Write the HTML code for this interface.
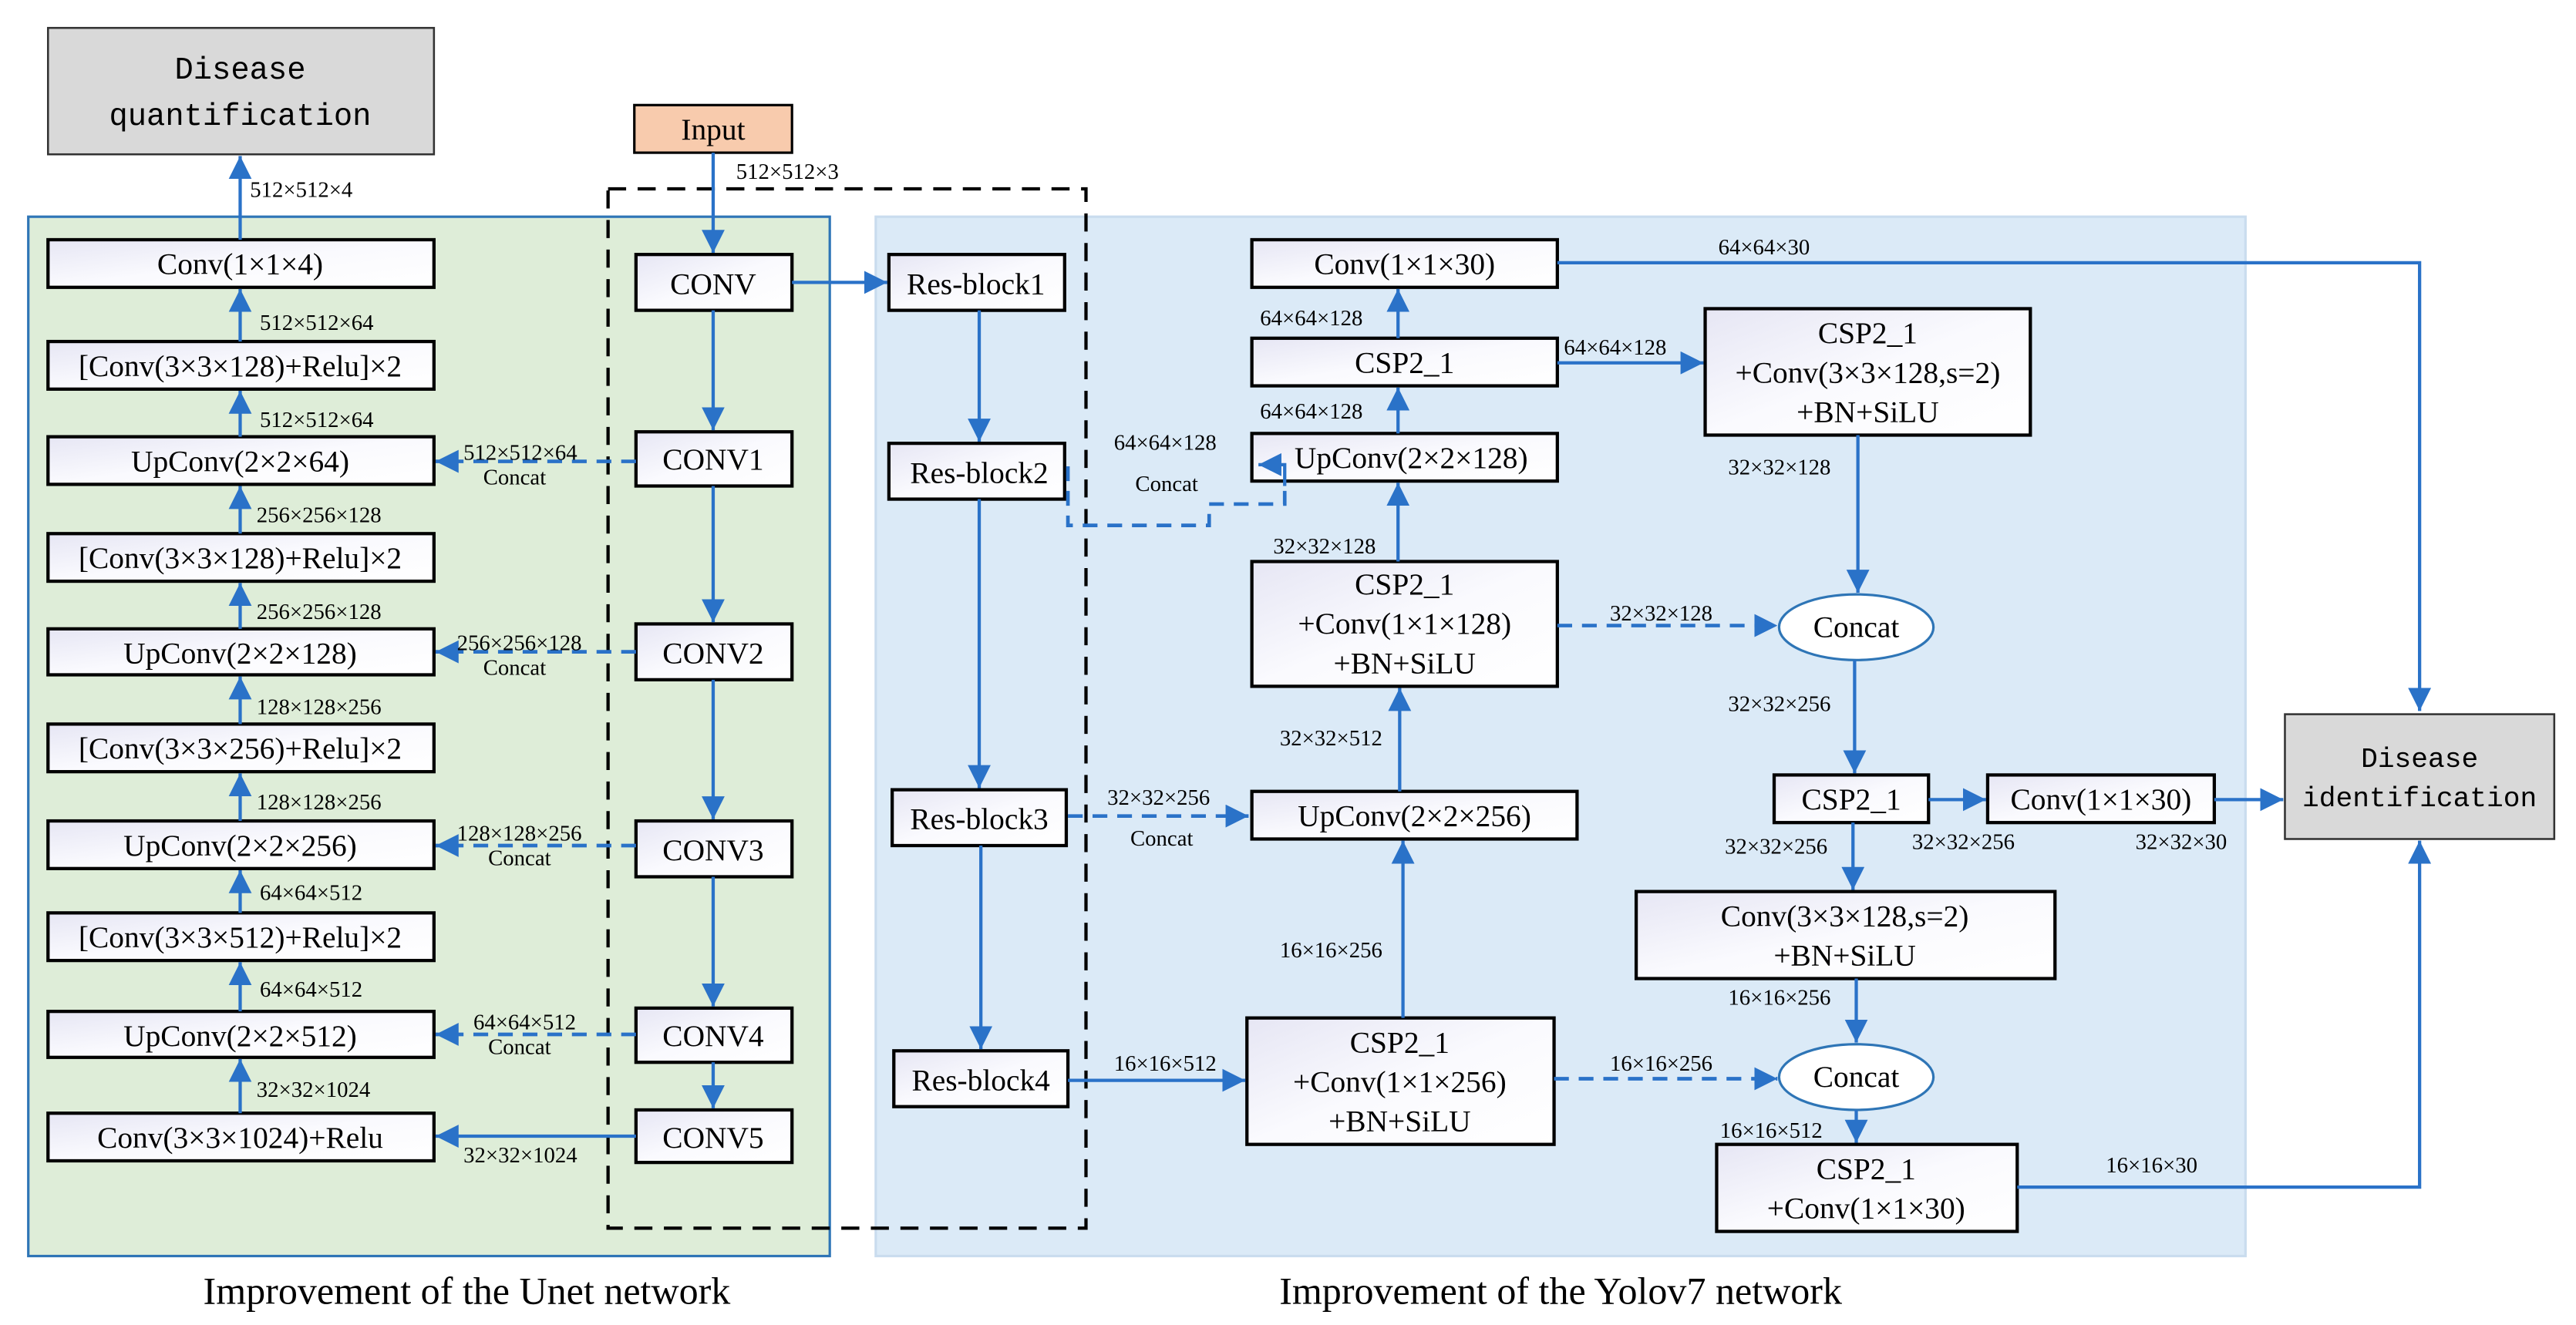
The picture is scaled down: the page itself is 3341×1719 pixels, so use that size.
<!DOCTYPE html>
<html><head><meta charset="utf-8"><style>
html,body{margin:0;padding:0;background:#fff}
svg{display:block}
.b{font-family:"Liberation Serif",serif;font-size:18.5px;fill:#000;text-anchor:middle}
.l{font-family:"Liberation Serif",serif;font-size:13.5px;fill:#000}
.m{font-family:"Liberation Mono",monospace;font-size:19px;fill:#000;text-anchor:middle}
.cap{font-family:"Liberation Serif",serif;font-size:23.5px;fill:#000;text-anchor:middle}
.bx{fill:url(#g);stroke:#000;stroke-width:2}
.ln{stroke:#2a72c8;stroke-width:2;fill:none}
.dl{stroke:#2a72c8;stroke-width:2.2;fill:none;stroke-dasharray:9,6}
</style></head><body>
<svg width="3341" height="1719" viewBox="0 0 1568 807" xmlns="http://www.w3.org/2000/svg">
<defs>
<linearGradient id="g" x1="0" y1="0" x2="1" y2="1"><stop offset="0" stop-color="#e6e6f4"/><stop offset="0.5" stop-color="#fafafe"/><stop offset="1" stop-color="#ffffff"/></linearGradient>
<marker id="a" viewBox="0 0 10 10" refX="10" refY="5" markerWidth="14" markerHeight="14" markerUnits="userSpaceOnUse" orient="auto"><path d="M0,0L10,5L0,10z" fill="#2a72c8"/></marker>
</defs>
<rect width="1568" height="807" fill="#fff"/>
<rect x="17" y="132" width="488" height="633" fill="#deedd8" stroke="#2e75b6" stroke-width="1.5"/>
<rect x="533" y="132" width="834" height="633" fill="#dbeaf7" stroke="#c9dcee" stroke-width="1.5"/>
<rect x="370" y="115" width="291" height="633" fill="none" stroke="#000" stroke-width="2" stroke-dasharray="11,7"/>
<rect x="29" y="17" width="235" height="77" fill="#d9d9d9" stroke="#333" stroke-width="1.2"/>
<text class="m" x="146" y="48">Disease</text><text class="m" x="146" y="76">quantification</text>
<rect x="386" y="64" width="96" height="29" fill="#f8cbad" stroke="#000" stroke-width="1.5"/>
<text class="b" x="434" y="85">Input</text>
<rect x="1391" y="435" width="164" height="76" fill="#d9d9d9" stroke="#333" stroke-width="1.2"/>
<text class="m" x="1473" y="467" style="font-size:17px">Disease</text><text class="m" x="1473" y="491" style="font-size:17px">identification</text>

<g>
<rect class="bx" x="29" y="146" width="235" height="29"/><text class="b" x="146" y="167">Conv(1×1×4)</text>
<rect class="bx" x="29" y="208" width="235" height="29"/><text class="b" x="146" y="229">[Conv(3×3×128)+Relu]×2</text>
<rect class="bx" x="29" y="266" width="235" height="29"/><text class="b" x="146" y="287">UpConv(2×2×64)</text>
<rect class="bx" x="29" y="325" width="235" height="29"/><text class="b" x="146" y="346">[Conv(3×3×128)+Relu]×2</text>
<rect class="bx" x="29" y="383" width="235" height="28"/><text class="b" x="146" y="404">UpConv(2×2×128)</text>
<rect class="bx" x="29" y="441" width="235" height="29"/><text class="b" x="146" y="462">[Conv(3×3×256)+Relu]×2</text>
<rect class="bx" x="29" y="500" width="235" height="29"/><text class="b" x="146" y="521">UpConv(2×2×256)</text>
<rect class="bx" x="29" y="556" width="235" height="29"/><text class="b" x="146" y="577">[Conv(3×3×512)+Relu]×2</text>
<rect class="bx" x="29" y="616" width="235" height="28"/><text class="b" x="146" y="637">UpConv(2×2×512)</text>
<rect class="bx" x="29" y="678" width="235" height="29"/><text class="b" x="146" y="699">Conv(3×3×1024)+Relu</text>
</g>
<path class="ln" d="M146,146V95" marker-end="url(#a)"/>
<path class="ln" d="M146,208V176" marker-end="url(#a)"/>
<path class="ln" d="M146,266V238" marker-end="url(#a)"/>
<path class="ln" d="M146,325V296" marker-end="url(#a)"/>
<path class="ln" d="M146,383V355" marker-end="url(#a)"/>
<path class="ln" d="M146,441V412" marker-end="url(#a)"/>
<path class="ln" d="M146,500V471" marker-end="url(#a)"/>
<path class="ln" d="M146,556V530" marker-end="url(#a)"/>
<path class="ln" d="M146,616V586" marker-end="url(#a)"/>
<path class="ln" d="M146,678V645" marker-end="url(#a)"/>
<text class="l" x="152" y="120">512×512×4</text>
<text class="l" x="158" y="201">512×512×64</text>
<text class="l" x="158" y="260">512×512×64</text>
<text class="l" x="156" y="318">256×256×128</text>
<text class="l" x="156" y="377">256×256×128</text>
<text class="l" x="156" y="435">128×128×256</text>
<text class="l" x="156" y="493">128×128×256</text>
<text class="l" x="158" y="548">64×64×512</text>
<text class="l" x="158" y="607">64×64×512</text>
<text class="l" x="156" y="668">32×32×1024</text>

<rect class="bx" x="387" y="155" width="95" height="34"/><text class="b" x="434" y="179">CONV</text>
<rect class="bx" x="387" y="263" width="95" height="33"/><text class="b" x="434" y="286">CONV1</text>
<rect class="bx" x="387" y="380" width="95" height="34"/><text class="b" x="434" y="404">CONV2</text>
<rect class="bx" x="387" y="500" width="95" height="34"/><text class="b" x="434" y="524">CONV3</text>
<rect class="bx" x="387" y="614" width="95" height="33"/><text class="b" x="434" y="637">CONV4</text>
<rect class="bx" x="387" y="676" width="95" height="32"/><text class="b" x="434" y="699">CONV5</text>
<path class="ln" d="M434,93V154" marker-end="url(#a)"/>
<text class="l" x="448" y="109">512×512×3</text>
<path class="ln" d="M434,189V262" marker-end="url(#a)"/>
<path class="ln" d="M434,296V379" marker-end="url(#a)"/>
<path class="ln" d="M434,414V499" marker-end="url(#a)"/>
<path class="ln" d="M434,534V613" marker-end="url(#a)"/>
<path class="ln" d="M434,647V675" marker-end="url(#a)"/>
<path class="dl" d="M387,281H265" marker-end="url(#a)"/>
<path class="dl" d="M387,397H265" marker-end="url(#a)"/>
<path class="dl" d="M387,515H265" marker-end="url(#a)"/>
<path class="dl" d="M387,630H265" marker-end="url(#a)"/>
<path class="ln" d="M387,692H265" marker-end="url(#a)"/>
<text class="l" x="282" y="280">512×512×64</text><text class="l" x="294" y="295">Concat</text>
<text class="l" x="278" y="396">256×256×128</text><text class="l" x="294" y="411">Concat</text>
<text class="l" x="278" y="512">128×128×256</text><text class="l" x="297" y="527">Concat</text>
<text class="l" x="288" y="627">64×64×512</text><text class="l" x="297" y="642">Concat</text>
<text class="l" x="282" y="708">32×32×1024</text>

<path class="ln" d="M482,172H540" marker-end="url(#a)"/>
<rect class="bx" x="541" y="155" width="107" height="34"/><text class="b" x="594" y="179">Res-block1</text>
<rect class="bx" x="541" y="270" width="107" height="34"/><text class="b" x="596" y="294">Res-block2</text>
<rect class="bx" x="543" y="481" width="106" height="34"/><text class="b" x="596" y="505">Res-block3</text>
<rect class="bx" x="544" y="640" width="106" height="34"/><text class="b" x="597" y="664">Res-block4</text>
<path class="ln" d="M596,189V269" marker-end="url(#a)"/>
<path class="ln" d="M596,304V480" marker-end="url(#a)"/>
<path class="ln" d="M597,515V639" marker-end="url(#a)"/>

<rect class="bx" x="762" y="146" width="186" height="29"/><text class="b" x="855" y="167">Conv(1×1×30)</text>
<rect class="bx" x="762" y="206" width="186" height="29"/><text class="b" x="855" y="227">CSP2_1</text>
<rect class="bx" x="762" y="264" width="186" height="29"/><text class="b" x="859" y="285">UpConv(2×2×128)</text>
<rect class="bx" x="762" y="342" width="186" height="76"/><text class="b" x="855" y="362">CSP2_1</text><text class="b" x="855" y="386">+Conv(1×1×128)</text><text class="b" x="855" y="410">+BN+SiLU</text>
<rect class="bx" x="762" y="482" width="198" height="29"/><text class="b" x="861" y="503">UpConv(2×2×256)</text>
<rect class="bx" x="759" y="620" width="187" height="77"/><text class="b" x="852" y="641">CSP2_1</text><text class="b" x="852" y="665">+Conv(1×1×256)</text><text class="b" x="852" y="689">+BN+SiLU</text>
<path class="ln" d="M851,206V176" marker-end="url(#a)"/>
<path class="ln" d="M851,264V236" marker-end="url(#a)"/>
<path class="ln" d="M851,342V294" marker-end="url(#a)"/>
<path class="ln" d="M852,482V419" marker-end="url(#a)"/>
<path class="ln" d="M854,620V512" marker-end="url(#a)"/>
<text class="l" x="767" y="198">64×64×128</text>
<text class="l" x="767" y="255">64×64×128</text>
<text class="l" x="775" y="337">32×32×128</text>
<text class="l" x="779" y="454">32×32×512</text>
<text class="l" x="779" y="583">16×16×256</text>
<path class="dl" d="M650,284V320H736V307H782V296"/>
<path class="ln" d="M782,296V283H766" marker-end="url(#a)"/>
<text class="l" x="678" y="274">64×64×128</text><text class="l" x="691" y="299">Concat</text>
<path class="dl" d="M650,497H760" marker-end="url(#a)"/>
<text class="l" x="674" y="490">32×32×256</text><text class="l" x="688" y="515">Concat</text>
<path class="ln" d="M650,658H758" marker-end="url(#a)"/>
<text class="l" x="678" y="652">16×16×512</text>

<path class="ln" d="M948,160H1473V433" marker-end="url(#a)"/>
<text class="l" x="1046" y="155">64×64×30</text>
<path class="ln" d="M948,221H1037" marker-end="url(#a)"/>
<text class="l" x="952" y="216">64×64×128</text>
<rect class="bx" x="1038" y="188" width="198" height="77"/><text class="b" x="1137" y="209">CSP2_1</text><text class="b" x="1137" y="233">+Conv(3×3×128,s=2)</text><text class="b" x="1137" y="257">+BN+SiLU</text>
<path class="ln" d="M1131,265V361" marker-end="url(#a)"/>
<text class="l" x="1052" y="289">32×32×128</text>
<ellipse cx="1130" cy="382" rx="47" ry="20" fill="#fff" stroke="#2e75b6" stroke-width="1.5"/>
<text class="b" x="1130" y="388">Concat</text>
<path class="dl" d="M948,381H1082" marker-end="url(#a)"/>
<text class="l" x="980" y="378">32×32×128</text>
<path class="ln" d="M1129,402V471" marker-end="url(#a)"/>
<text class="l" x="1052" y="433">32×32×256</text>
<rect class="bx" x="1080" y="472" width="94" height="29"/><text class="b" x="1127" y="493">CSP2_1</text>
<path class="ln" d="M1174,487H1209" marker-end="url(#a)"/>
<rect class="bx" x="1210" y="472" width="138" height="29"/><text class="b" x="1279" y="493">Conv(1×1×30)</text>
<path class="ln" d="M1348,487H1390" marker-end="url(#a)"/>
<text class="l" x="1164" y="517">32×32×256</text>
<text class="l" x="1300" y="517">32×32×30</text>
<text class="l" x="1050" y="520">32×32×256</text>
<path class="ln" d="M1128,501V542" marker-end="url(#a)"/>
<rect class="bx" x="996" y="543" width="255" height="53"/><text class="b" x="1123" y="564">Conv(3×3×128,s=2)</text><text class="b" x="1123" y="588">+BN+SiLU</text>
<path class="ln" d="M1130,596V635" marker-end="url(#a)"/>
<text class="l" x="1052" y="612">16×16×256</text>
<ellipse cx="1130" cy="656" rx="47" ry="20" fill="#fff" stroke="#2e75b6" stroke-width="1.5"/>
<text class="b" x="1130" y="662">Concat</text>
<path class="dl" d="M946,657H1082" marker-end="url(#a)"/>
<text class="l" x="980" y="652">16×16×256</text>
<path class="ln" d="M1130,676V696" marker-end="url(#a)"/>
<text class="l" x="1047" y="693">16×16×512</text>
<rect class="bx" x="1045" y="697" width="183" height="53"/><text class="b" x="1136" y="718">CSP2_1</text><text class="b" x="1136" y="742">+Conv(1×1×30)</text>
<path class="ln" d="M1228,723H1473V512" marker-end="url(#a)"/>
<text class="l" x="1282" y="714">16×16×30</text>

<text class="cap" x="284" y="794">Improvement of the Unet network</text>
<text class="cap" x="950" y="794">Improvement of the Yolov7 network</text>
</svg>
</body></html>
